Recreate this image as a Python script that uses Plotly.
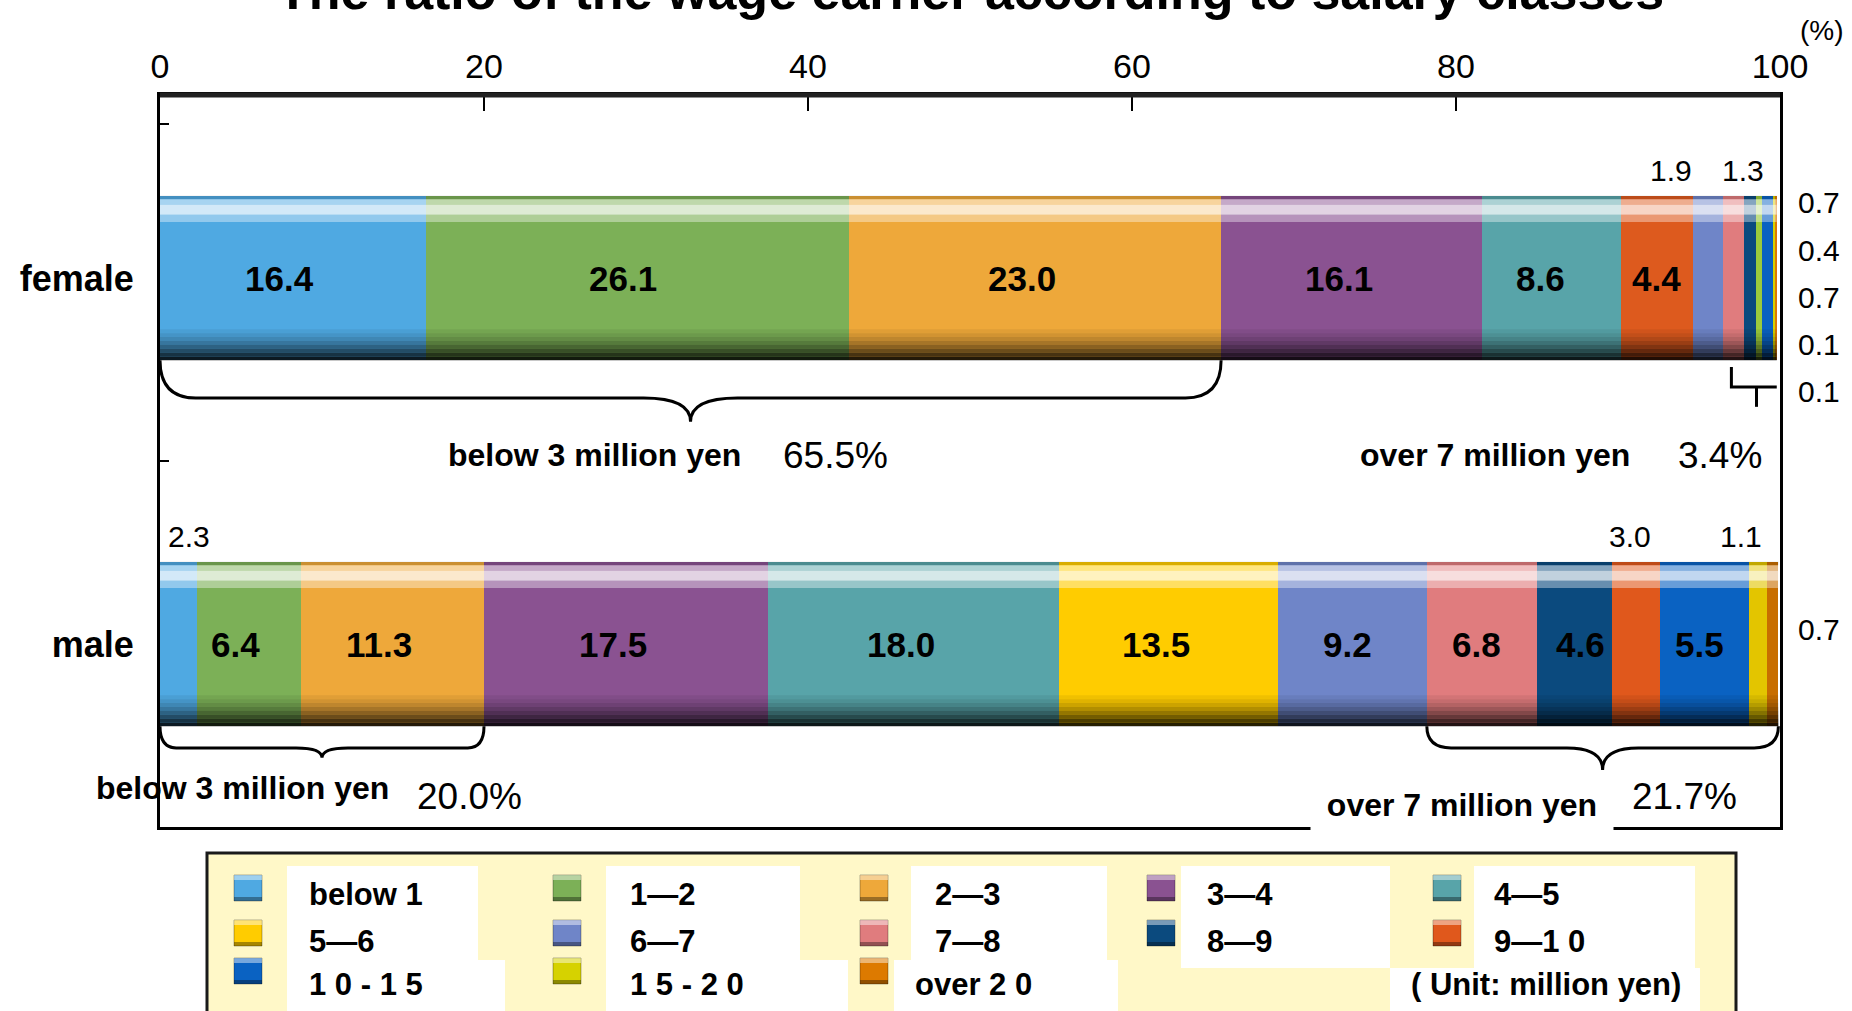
import plotly.graph_objects as go

# ---- data -------------------------------------------------------------
classes = ["below 1", "1—2", "2—3", "3—4", "4—5", "5—6", "6—7", "7—8",
           "8—9", "9—1 0", "1 0 - 1 5", "1 5 - 2 0", "over 2 0"]
female = [16.4, 26.1, 23.0, 16.1, 8.6, 4.4, 1.9, 1.3, 0.7, 0.4, 0.7, 0.1, 0.1]
male = [2.3, 6.4, 11.3, 17.5, 18.0, 13.5, 9.2, 6.8, 4.6, 3.0, 5.5, 1.1, 0.7]
groups = ["male", "female"]
x_ticks = [0, 20, 40, 60, 80, 100]
below3_share = {"female": 65.5, "male": 20.0}
over7_share = {"female": 3.4, "male": 21.7}

# ---- styling ----------------------------------------------------------
FONT = "Liberation Sans, Arial, sans-serif"
class_colors = ["#4FA9E2", "#7CB057", "#EEA83A", "#8A5291", "#58A4A9",
                "#FFCC00", "#6F85C8", "#E07C7E", "#0B4A7E", "#E0581C",
                "#0A62C2", "#D6D200", "#DD7A00"]
female_colors = list(class_colors)
female_colors[5] = "#DD5A1E"
female_colors[9] = "#9CCB3C"
male_colors = list(class_colors)
male_colors[11] = "#E3C500"
male_colors[12] = "#C86E00"

# horizontal nudges (px) for the in-bar value labels
female_label_shift = [-13, -14, -13, -13, -11, 0, 0, 0, 0, 0, 0, 0, 0]
male_label_shift = [0, -14, -13, -13, -12, -12, -5, -5, 6, 0, -5, 0, 0]

W, H = 1852, 1011
L, R, T, B = 160, 72, 95, 184
PW, PH = W - L - R, H - T - B
BAR_W = 0.45
Y_POS = {"male": 0, "female": 1}


def paper_x(px):
    return (px - L) / PW


def paper_y(py):
    return 1 - (py - T) / PH


fig = go.Figure()

# ---- stacked bars ------------------------------------------------------
for i, cls in enumerate(classes):
    fig.add_trace(go.Bar(
        y=[Y_POS["male"], Y_POS["female"]],
        x=[male[i], female[i]],
        orientation="h",
        width=BAR_W,
        name=cls,
        marker=dict(color=[male_colors[i], female_colors[i]], line=dict(width=0)),
        showlegend=False,
        hoverinfo="skip",
    ))

shapes = []
annotations = []

cum_f = [sum(female[:k]) for k in range(len(female) + 1)]
cum_m = [sum(male[:k]) for k in range(len(male) + 1)]

# value labels inside the wider segments
in_font = dict(family=FONT, size=35, color="black", weight="bold")
for g, vals, cum, shifts in (("female", female, cum_f, female_label_shift),
                             ("male", male, cum_m, male_label_shift)):
    for i, v in enumerate(vals):
        if v >= 4:
            annotations.append(dict(xref="x", yref="y", x=(cum[i] + cum[i + 1]) / 2,
                                    y=Y_POS[g], xshift=shifts[i], xanchor="center",
                                    text=f"{v:.1f}", showarrow=False, font=in_font))

# glossy highlight and shaded bottom on each bar
for g, vals in (("male", male), ("female", female)):
    c = Y_POS[g]
    top, bot = c + BAR_W / 2, c - BAR_W / 2
    total = sum(vals)
    bands = [
        (top - 0.010, top, "rgba(0,0,0,0.15)"),
        (top - 0.024, top - 0.010, "rgba(255,255,255,0.5)"),
        (top - 0.052, top - 0.024, "rgba(255,255,255,0.75)"),
        (top - 0.072, top - 0.052, "rgba(255,255,255,0.38)"),
    ]
    shade = [0.06, 0.12, 0.2, 0.3, 0.42, 0.55, 0.7, 0.85]
    step = 0.085 / len(shade)
    for k, a in enumerate(shade):
        y0 = bot + 0.085 - (k + 1) * step
        bands.append((y0, y0 + step, f"rgba(0,0,0,{a})"))
    for y0, y1, col in bands:
        shapes.append(dict(type="rect", xref="x", yref="y", x0=0, x1=total,
                           y0=y0, y1=y1, fillcolor=col, line=dict(width=0),
                           layer="above"))


def brace(x0, x1, y_top, y_h, y_tip, dx_end, dx_tip):
    xc = (x0 + x1) / 2
    return (f"M {x0},{y_top} Q {x0},{y_h} {x0 + dx_end},{y_h} "
            f"L {xc - dx_tip},{y_h} Q {xc},{y_h} {xc},{y_tip} "
            f"Q {xc},{y_h} {xc + dx_tip},{y_h} L {x1 - dx_end},{y_h} "
            f"Q {x1},{y_h} {x1},{y_top}")


line_style = dict(color="black", width=3)
f_bot = Y_POS["female"] - BAR_W / 2
m_bot = Y_POS["male"] - BAR_W / 2

# female: below 3 million (first three classes)
shapes.append(dict(type="path", xref="x", yref="y", line=line_style,
                   path=brace(0, cum_f[3], f_bot, f_bot - 0.103, f_bot - 0.168, 2.2, 2.9)))
# female: over 7 million (square bracket)
fx0, fx1 = cum_f[7], cum_f[-1]
shapes.append(dict(type="path", xref="x", yref="y", line=line_style,
                   path=f"M {fx0 + 0.5},{f_bot - 0.018} L {fx0 + 0.5},{f_bot - 0.073} L {fx1},{f_bot - 0.073}"))
shapes.append(dict(type="line", xref="x", yref="y", line=line_style,
                   x0=(fx0 + fx1) / 2 + 0.4, x1=(fx0 + fx1) / 2 + 0.4,
                   y0=f_bot - 0.073, y1=f_bot - 0.127))
# male: below 3 million
shapes.append(dict(type="path", xref="x", yref="y", line=line_style,
                   path=brace(0, cum_m[3], m_bot, m_bot - 0.059, m_bot - 0.086, 1.0, 1.6)))
# male: over 7 million
shapes.append(dict(type="path", xref="x", yref="y", line=line_style,
                   path=brace(cum_m[7], cum_m[-1], m_bot, m_bot - 0.059, m_bot - 0.119, 1.5, 2.2)))

# heavy top axis rule
shapes.append(dict(type="line", xref="paper", yref="paper", x0=0, x1=1, y0=1, y1=1,
                   line=dict(color="#222222", width=5)))

# ---- legend panel -----------------------------------------------------
shapes.append(dict(type="rect", xref="paper", yref="paper",
                   x0=paper_x(207), x1=paper_x(1736), y0=paper_y(1030), y1=paper_y(853),
                   fillcolor="#FFF8C8", line=dict(color="#1a1a1a", width=3)))
white_patches = [
    (287, 478, 866, 1030), (478, 505, 960, 1030),
    (606, 800, 866, 1030), (800, 848, 960, 1030),
    (911, 1107, 866, 960), (894, 1118, 960, 1030),
    (1181, 1390, 866, 968),
    (1474, 1695, 866, 968), (1390, 1700, 968, 1030),
]
for x0, x1, y0, y1 in white_patches:
    shapes.append(dict(type="rect", xref="paper", yref="paper",
                       x0=paper_x(x0), x1=paper_x(x1), y0=paper_y(y1), y1=paper_y(y0),
                       fillcolor="white", line=dict(width=0)))

swatch_cx = [248, 567, 874, 1161, 1447]
swatch_cy = [888, 933, 971]
text_left = [307, 628, 933, 1205, 1492]
text_cy = [894, 941, 985]
leg_font = dict(family=FONT, size=31, color="black", weight="bold")
for i, cls in enumerate(classes):
    r, c = divmod(i, 5)
    cx, cy = swatch_cx[c], swatch_cy[r]
    shapes.append(dict(type="rect", xref="paper", yref="paper",
                       x0=paper_x(cx - 14), x1=paper_x(cx + 14),
                       y0=paper_y(cy + 13), y1=paper_y(cy - 13),
                       fillcolor=class_colors[i], line=dict(color="rgba(0,0,0,0.3)", width=1)))
    shapes.append(dict(type="rect", xref="paper", yref="paper",
                       x0=paper_x(cx - 14), x1=paper_x(cx + 14),
                       y0=paper_y(cy - 8), y1=paper_y(cy - 13),
                       fillcolor="rgba(255,255,255,0.45)", line=dict(width=0)))
    shapes.append(dict(type="rect", xref="paper", yref="paper",
                       x0=paper_x(cx - 14), x1=paper_x(cx + 14),
                       y0=paper_y(cy + 13), y1=paper_y(cy + 9),
                       fillcolor="rgba(0,0,0,0.35)", line=dict(width=0)))
    tx = 913 if cls.startswith("over") else text_left[c]
    annotations.append(dict(xref="paper", yref="paper", x=paper_x(tx), y=paper_y(text_cy[r]),
                            xanchor="left", yanchor="middle", text=cls, showarrow=False,
                            font=leg_font))
annotations.append(dict(xref="paper", yref="paper", x=paper_x(1409), y=paper_y(985),
                        xanchor="left", yanchor="middle", text="( Unit: million yen)",
                        showarrow=False, font=leg_font))

# ---- value labels outside the bars -----------------------------------
lab_font = dict(family=FONT, size=30, color="black")
f_top = Y_POS["female"] + BAR_W / 2
m_top = Y_POS["male"] + BAR_W / 2
above = [("female", 6, -37), ("female", 7, 9), ("male", 0, 10), ("male", 9, -6), ("male", 11, -17)]
for g, idx, shift in above:
    vals, cum, top = (female, cum_f, f_top) if g == "female" else (male, cum_m, m_top)
    annotations.append(dict(xref="x", yref="y", x=(cum[idx] + cum[idx + 1]) / 2, y=top,
                            xshift=shift, yshift=25, xanchor="center", text=f"{vals[idx]:.1f}",
                            showarrow=False, font=lab_font))
for k, idx in enumerate(range(8, 13)):
    annotations.append(dict(xref="paper", yref="y", x=paper_x(1819), xanchor="center",
                            y=Y_POS["female"] + 0.205 - k * 0.129,
                            text=f"{female[idx]:.1f}", showarrow=False, font=lab_font))
annotations.append(dict(xref="paper", yref="y", x=paper_x(1819), xanchor="center",
                        y=Y_POS["male"] + 0.04,
                        text=f"{male[12]:.1f}", showarrow=False, font=lab_font))

# ---- bracket captions ------------------------------------------------
cap_font = dict(family=FONT, size=32, color="black", weight="bold")
pct_font = dict(family=FONT, size=37, color="black")
annotations += [
    dict(xref="x", yref="y", x=26.85, y=0.516, text="below 3 million yen", showarrow=False, font=cap_font),
    dict(xref="x", yref="y", x=41.7, y=0.516, text=f"{below3_share['female']:.1f}%", showarrow=False, font=pct_font),
    dict(xref="x", yref="y", x=82.4, y=0.516, text="over 7 million yen", showarrow=False, font=cap_font),
    dict(xref="x", yref="y", x=96.3, y=0.516, text=f"{over7_share['female']:.1f}%", showarrow=False, font=pct_font),
    dict(xref="x", yref="y", x=5.1, y=-0.393, text="below 3 million yen", showarrow=False, font=cap_font),
    dict(xref="x", yref="y", x=19.1, y=-0.418, text=f"{below3_share['male']:.1f}%", showarrow=False, font=pct_font),
    dict(xref="x", yref="y", x=80.4, y=-0.44, text="over 7 million yen", showarrow=False, font=cap_font,
         bgcolor="white", width=300, height=50),
    dict(xref="x", yref="y", x=94.1, y=-0.418, text=f"{over7_share['male']:.1f}%", showarrow=False, font=pct_font),
]

# title (runs off the top edge) and unit mark
annotations.append(dict(xref="paper", yref="paper", x=0.5, y=paper_y(22), yanchor="bottom",
                        xanchor="center",
                        text="The ratio of the wage earner according to salary classes",
                        showarrow=False, font=dict(family=FONT, size=52, color="black", weight="bold")))
annotations.append(dict(xref="paper", yref="paper", x=paper_x(1822), y=paper_y(30),
                        xanchor="center", yanchor="middle",
                        text="(%)", showarrow=False, font=dict(family=FONT, size=28, color="black")))

fig.update_layout(
    width=W, height=H,
    margin=dict(l=L, r=R, t=T, b=B),
    barmode="stack",
    plot_bgcolor="white", paper_bgcolor="white",
    shapes=shapes, annotations=annotations,
    xaxis=dict(range=[0, 100], side="top", tickvals=x_ticks, ticks="inside",
               ticklen=16, tickwidth=2, tickcolor="black", showgrid=False, zeroline=False,
               showline=True, mirror=True, linecolor="black", linewidth=3,
               tickfont=dict(family=FONT, size=34, color="black"), ticklabelstandoff=0),
    yaxis=dict(range=[-0.5, 1.5], tickvals=[Y_POS[g] for g in groups], ticktext=groups,
               ticks="", showgrid=False, zeroline=False, showline=True, mirror=True,
               linecolor="black", linewidth=3, ticklabelstandoff=16,
               tickfont=dict(family=FONT, size=36, color="black", weight="bold"),
               minor=dict(tickvals=[0.5, 1.42], ticks="inside", ticklen=9, tickwidth=2,
                          tickcolor="black", showgrid=False)),
)

fig.write_html("out.html")
